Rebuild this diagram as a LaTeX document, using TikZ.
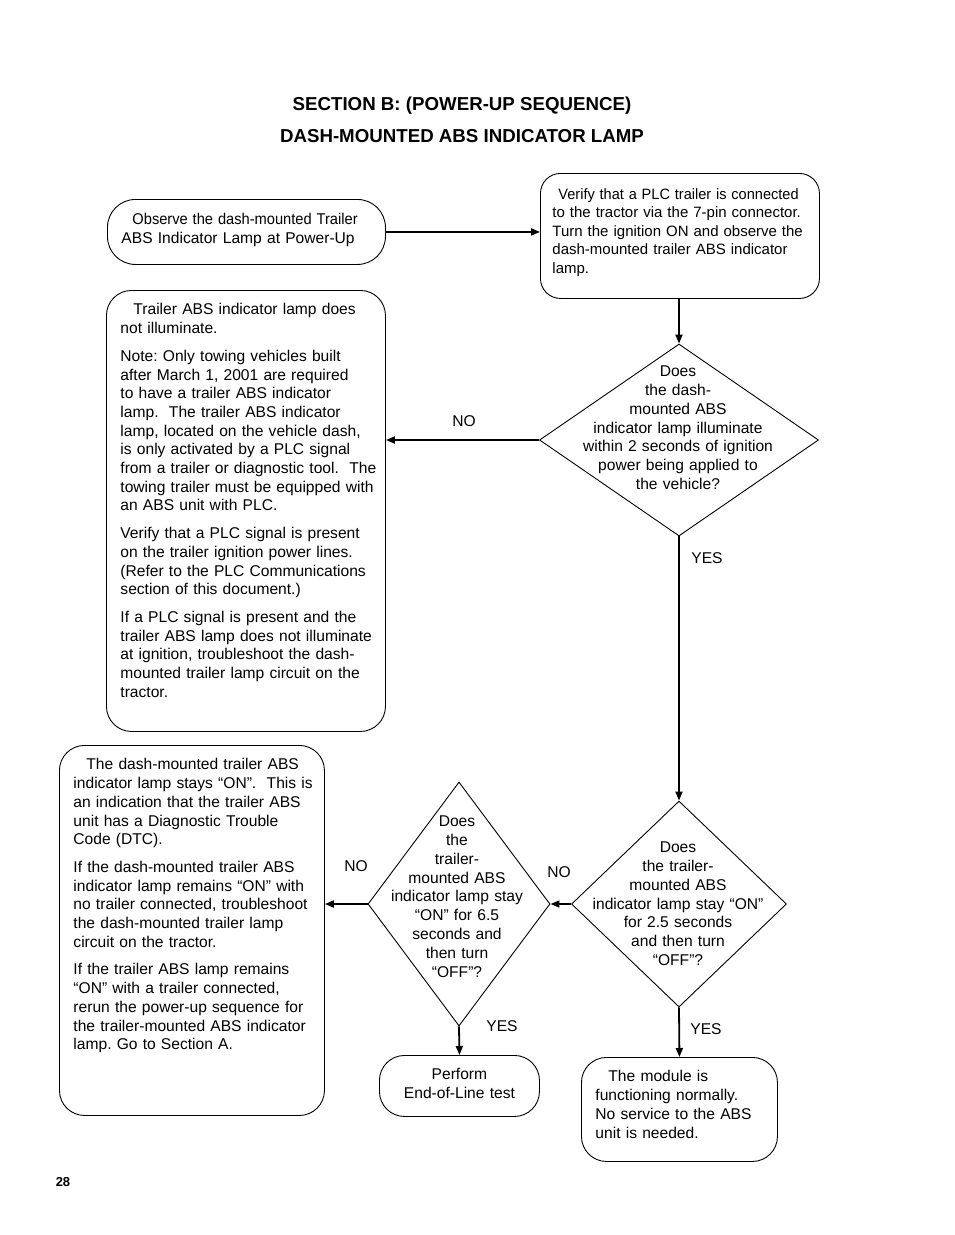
\documentclass[tikz,border=0pt]{standalone}
\usepackage{fontspec}
\usepackage{graphicx}
\setmainfont{Liberation Sans}
\usetikzlibrary{shapes.geometric,arrows.meta}

\tikzset{
  box/.style={draw, line width=0.9pt, rounded corners=22pt, anchor=north west,
    inner xsep=14pt, inner ysep=0pt, align=left, font=\fontsize{15.6}{18.7}\selectfont\frenchspacing},
  decision/.style={draw, diamond, line width=0.9pt, inner sep=0pt},
  qtext/.style={anchor=north, align=center, inner sep=0pt, text height=11pt,
    text width=210pt, font=\fontsize{15.6}{18.8}\selectfont},
  answer/.style={anchor=base, inner sep=0pt, font=\fontsize{15.6}{18.7}\selectfont},
  flow/.style={line width=1.8pt, -{Triangle[length=9pt,width=7pt]}}
}

\begin{document}
\begin{tikzpicture}[x=1pt, y=-1pt]
		\useasboundingbox (0,0) rectangle (954,1235);

		% Headings
		\node[anchor=base, font=\fontsize{18.7}{22}\selectfont\bfseries] (title) at (462,110) {SECTION B: (POWER-UP SEQUENCE)};
		\node[anchor=base, font=\fontsize{18.7}{22}\selectfont\bfseries] (subtitle) at (462,142) {DASH-MOUNTED ABS INDICATOR LAMP};

		% Start and check boxes
		\node[box, rounded corners=28pt, text width=250pt, text height=25pt, text depth=40pt] (obs) at (107,199)
			{\hspace*{11pt}\scalebox{0.94}[1]{Observe the dash-mounted Trailer}\\ABS Indicator Lamp at Power-Up};
		\node[box, inner xsep=12pt, rounded corners=20pt, text width=255pt, text height=26pt, text depth=99pt,
			font=\fontsize{15}{18.5}\selectfont] (ver) at (540,173)
			{\hspace*{6pt}\scalebox{0.97}[1]{Verify that a PLC trailer is connected}\\
			to the tractor via the 7-pin connector.\\
			Turn the ignition ON and observe the\\
			\makebox[249pt][s]{dash-mounted trailer ABS indicator}\\
			lamp.};

		% First question
		\node[decision, minimum width=279pt, minimum height=192pt] (d1) at (679,440) {};
		\node[qtext] (q1) at (678,365.5) {Does\\the dash-\\mounted ABS\\indicator lamp illuminate\\within 2 seconds of ignition\\power being applied to\\the vehicle?};

		% Lamp does not light
		\node[box, rounded corners=25pt, text width=251pt, text height=24.5pt, text depth=416.5pt] (note) at (106,290)
			{\hspace*{13pt}Trailer ABS indicator lamp does\\
			not illuminate.\\[9pt]
			Note: Only towing vehicles built\\
			after March 1, 2001 are required\\
			to have a trailer ABS indicator\\
			lamp.\ \ The trailer ABS indicator\\
			lamp, located on the vehicle dash,\\
			is only activated by a PLC signal\\
			\mbox{from a trailer or diagnostic tool.\ \ The}\\
			\mbox{towing trailer must be equipped with}\\
			an ABS unit with PLC.\\[9pt]
			Verify that a PLC signal is present\\
			on the trailer ignition power lines.\\
			(Refer to the PLC Communications\\
			section of this document.)\\[9pt]
			If a PLC signal is present and the\\
			\mbox{trailer ABS lamp does not illuminate}\\
			at ignition, troubleshoot the dash-\\
			mounted trailer lamp circuit on the\\
			tractor.};

		% Second and third questions
		\node[decision, minimum width=215pt, minimum height=206pt] (d2) at (679,904) {};
		\node[qtext] (q2) at (678,841.5) {Does\\the trailer-\\mounted ABS\\indicator lamp stay “ON”\\for 2.5 seconds\\and then turn\\“OFF”?};
		\node[decision, minimum width=182pt, minimum height=244pt] (d3) at (459,904) {};
		\node[qtext] (q3) at (457,815.5) {Does\\the\\trailer-\\mounted ABS\\indicator lamp stay\\“ON” for 6.5\\seconds and\\then turn\\“OFF”?};

		% Results
		\node[box, rounded corners=25pt, text width=237pt, text height=24.5pt, text depth=345.5pt] (dtc) at (59,745)
			{\hspace*{13pt}The dash-mounted trailer ABS\\
			\mbox{indicator lamp stays “ON”.\ \ This is}\\
			an indication that the trailer ABS\\
			unit has a Diagnostic Trouble\\
			Code (DTC).\\[9pt]
			If the dash-mounted trailer ABS\\
			indicator lamp remains “ON” with\\
			\mbox{no trailer connected, troubleshoot}\\
			the dash-mounted trailer lamp\\
			circuit on the tractor.\\[9pt]
			If the trailer ABS lamp remains\\
			“ON” with a trailer connected,\\
			rerun the power-up sequence for\\
			\mbox{the trailer-mounted ABS indicator}\\
			lamp. Go to Section A.};
		\node[box, align=center, rounded corners=25pt, text width=132pt, text height=24.5pt, text depth=36.5pt] (eol) at (379,1055)
			{Perform\\End-of-Line test};
		\node[box, rounded corners=25pt, text width=168pt, text height=24.5pt, text depth=79.5pt] (ok) at (581,1057)
			{\hspace*{13pt}The module is\\functioning normally.\\No service to the ABS\\unit is needed.};

		% Connectors
		\draw[flow] (obs.east) -- (obs.east -| ver.west);
		\draw[flow] (ver.south -| d1.north) -- (d1.north);
		\draw[flow] (d1.west) -- (d1.west -| note.east);
		\draw[flow] (d1.south) -- (d2.north);
		\draw[flow] (d2.west) -- (d3.east);
		\draw[flow] (d3.west) -- (d3.west -| dtc.east);
		\draw[flow] (d3.south) -- (eol.north);
		\draw[flow] (d2.south) -- (ok.north);

		% Answers
		\node[answer] (no1) at (464,426) {NO};
		\node[answer] (yes1) at (707,563) {YES};
		\node[answer] (no2) at (559,877) {NO};
		\node[answer] (no3) at (356,871) {NO};
		\node[answer] (yes2) at (502,1031) {YES};
		\node[answer] (yes3) at (706,1034) {YES};

		% Page number
		\node[anchor=base, font=\fontsize{13}{15}\selectfont\bfseries] (page) at (63,1186) {28};
	\end{tikzpicture}
\end{document}
